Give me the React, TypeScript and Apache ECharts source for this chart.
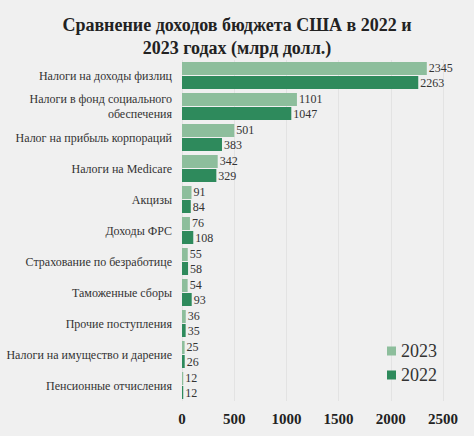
import { useEffect, useRef } from 'react';
import * as echarts from 'echarts';

const CATEGORIES = [
  'Налоги на доходы физлиц',
  'Налоги в фонд социального\nобеспечения',
  'Налог на прибыль корпораций',
  'Налоги на Medicare',
  'Акцизы',
  'Доходы ФРС',
  'Страхование по безработице',
  'Таможенные сборы',
  'Прочие поступления',
  'Налоги на имущество и дарение',
  'Пенсионные отчисления',
];

const VALUES_2023 = [2345, 1101, 501, 342, 91, 76, 55, 54, 36, 25, 12];
const VALUES_2022 = [2263, 1047, 383, 329, 84, 108, 58, 93, 35, 26, 12];

const X_MAX = 2500;
const X_STEP = 500;

const FONT = '"Liberation Serif", "DejaVu Serif", serif';

export default function App() {
  const chartRef = useRef<HTMLDivElement>(null);

  useEffect(() => {
    document.body.style.margin = '0';
    if (!chartRef.current) return;
    const chart = echarts.init(chartRef.current, null, { renderer: 'svg' });

    const label = {
      show: true,
      position: 'right' as const,
      distance: 2,
      color: '#333',
      fontSize: 12,
      fontFamily: FONT,
    };

    chart.setOption({
      animation: false,
      backgroundColor: '#f0f0f0',
      textStyle: { fontFamily: FONT },
      title: {
        text: 'Сравнение доходов бюджета США в 2022 и\n2023 годах (млрд долл.)',
        left: 'center',
        top: 8,
        textStyle: {
          fontFamily: FONT,
          fontSize: 18,
          fontWeight: 'bold',
          color: '#222',
          lineHeight: 23,
        },
      },
      legend: {
        orient: 'vertical',
        left: 382,
        top: 337,
        icon: 'rect',
        itemWidth: 9,
        itemHeight: 9,
        itemGap: 6,
        textStyle: { fontFamily: FONT, fontSize: 18, color: '#333' },
        data: ['2023', '2022'],
      },
      grid: { left: 182, right: 31, top: 60, bottom: 35 },
      xAxis: {
        type: 'value',
        min: 0,
        max: X_MAX,
        interval: X_STEP,
        axisLine: { show: false },
        axisTick: { show: false },
        splitLine: { lineStyle: { color: 'rgba(0,0,0,0.05)' } },
        axisLabel: {
          color: '#222',
          fontSize: 15,
          fontWeight: 'bold',
          fontFamily: FONT,
          margin: 10,
          formatter: (v: number) => String(v),
        },
      },
      yAxis: {
        type: 'category',
        inverse: true,
        data: CATEGORIES,
        axisLine: { show: false },
        axisTick: { show: false },
        axisLabel: {
          color: '#333',
          fontSize: 12,
          fontFamily: FONT,
          margin: 10,
          lineHeight: 15,
          align: 'right',
        },
      },
      series: [
        {
          name: '2023',
          type: 'bar',
          data: VALUES_2023,
          barWidth: 13,
          barGap: '8%',
          itemStyle: { color: '#8dbe9c' },
          label,
        },
        {
          name: '2022',
          type: 'bar',
          data: VALUES_2022,
          barWidth: 13,
          barGap: '8%',
          itemStyle: { color: '#2e8a5c' },
          label,
        },
      ],
    });

    return () => chart.dispose();
  }, []);

  return <div ref={chartRef} style={{ width: 474, height: 436 }} />;
}
